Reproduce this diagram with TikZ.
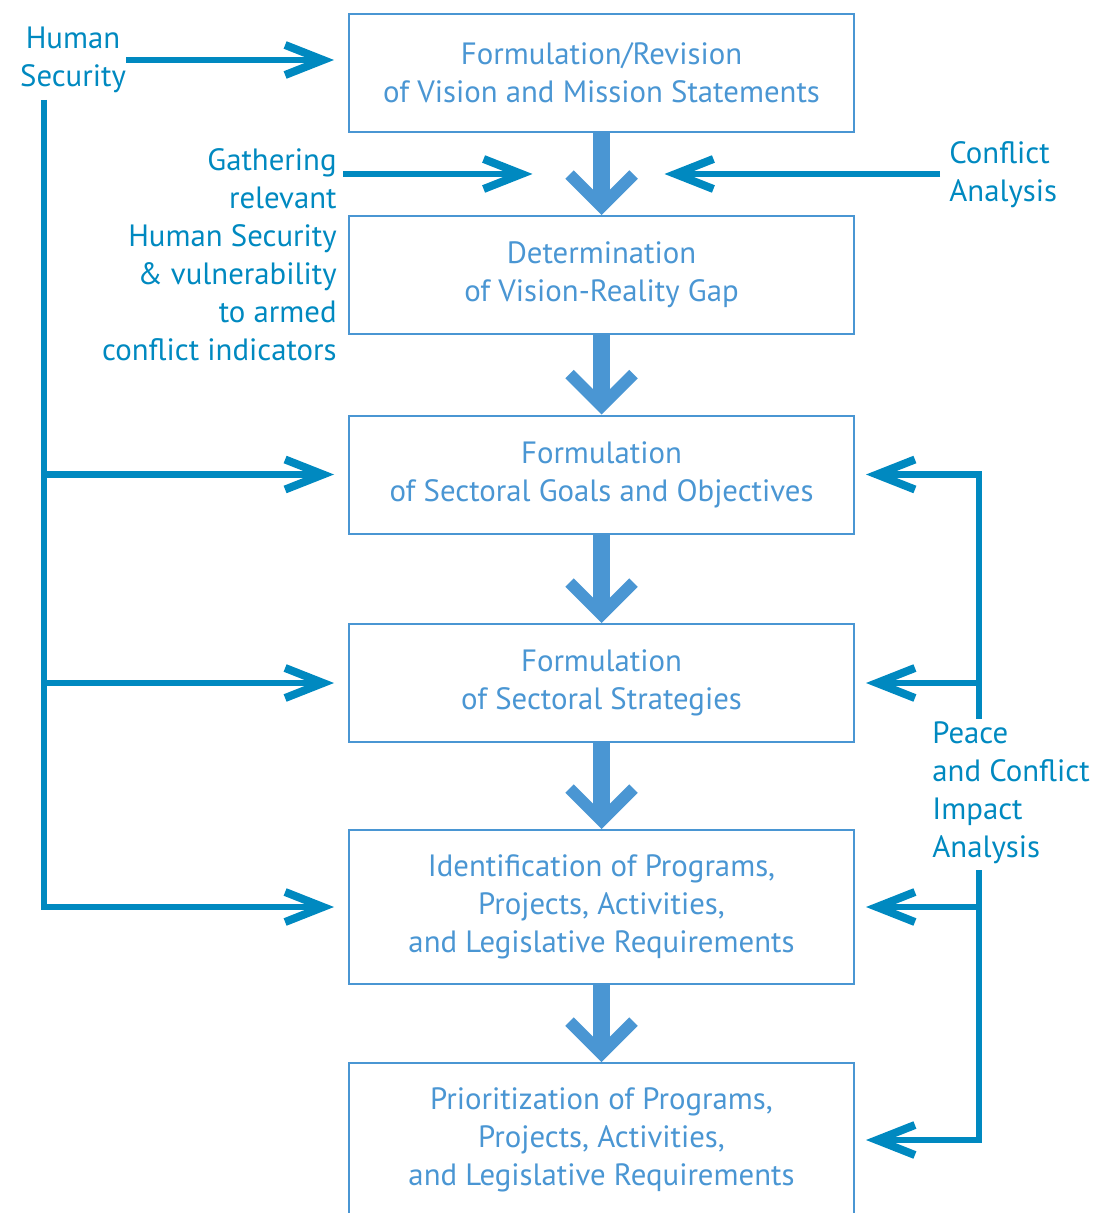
\documentclass[tikz,border=0pt]{standalone}
\usepackage{fontspec}
\setmainfont{PT Sans}
\usetikzlibrary{arrows.meta,positioning,calc}
\definecolor{BoxBlue}{RGB}{74,150,211}
\definecolor{LinkBlue}{RGB}{0,137,192}

\begin{document}
\begin{tikzpicture}[x=0.5pt,y=-0.5pt,
    stagebox/.style={draw=BoxBlue,line width=1pt,text=BoxBlue,minimum width=252.5pt,minimum height=59pt,align=center,font=\fontsize{15.4}{19}\selectfont},
    sidetext/.style={text=LinkBlue,inner sep=0pt,font=\fontsize{15.4}{19}\selectfont},
    flow/.style={draw=BoxBlue,line width=8.5pt,-{Straight Barb[length=16pt,width=32pt,line width=6pt]}},
    feed/.style={draw=LinkBlue,line width=3.3pt,-{Straight Barb[length=19pt,width=15pt,line width=4pt]}}]
    \useasboundingbox (0,0) rectangle (1098,1213);
    % main stages
    \node[stagebox] (b1) at (601.5,73) {Formulation/Revision\\of Vision and Mission Statements};
    \node[stagebox] (b2) at (601.5,275) {Determination\\of Vision-Reality Gap};
    \node[stagebox] (b3) at (601.5,474.5) {Formulation\\of Sectoral Goals and Objectives};
    \node[stagebox] (b4) at (601.5,683) {Formulation\\of Sectoral Strategies};
    \node[stagebox,minimum height=77pt] (b5) at (601.5,907) {Identification of Programs,\\Projects, Activities,\\and Legislative Requirements};
    \node[stagebox,minimum height=77pt] (b6) at (601.5,1140) {Prioritization of Programs,\\Projects, Activities,\\and Legislative Requirements};
    % inputs
    \node[sidetext,align=center] (hs) at (73,60) {Human\\Security};
    \node[sidetext,align=right,anchor=east] (gather) at (337,255) {Gathering\\relevant\\Human Security\\\& vulnerability\\to armed\\conflict indicators};
    \node[sidetext,align=left,anchor=west] (ca) at (949,175) {Conflict\\Analysis};
    \node[sidetext,align=left,anchor=west] (pcia) at (932,793) {Peace\\and Conflict\\Impact\\Analysis};
    \coordinate (lrail) at (44,100);
    \coordinate (rrail) at (979,0);
    \coordinate (gap1) at ($(b1.south)!0.5!(b2.north)$);
    % stage to stage
    \draw[flow] (b1) -- (b2);
    \draw[flow] (b2) -- (b3);
    \draw[flow] (b3) -- (b4);
    \draw[flow] (b4) -- (b5);
    \draw[flow] (b5) -- (b6);
    % human security rail
    \draw[feed,shorten >=7pt] (hs.east) -- (hs.east -| b1.west);
    \draw[feed,shorten >=7pt] (lrail) |- (b5.west);
    \draw[feed,shorten >=7pt] (lrail |- b3.west) -- (b3.west);
    \draw[feed,shorten >=7pt] (lrail |- b4.west) -- (b4.west);
    % analyses
    \draw[feed,shorten <=3pt,shorten >=34.5pt] (gather.east |- gap1) -- (gap1);
    \draw[feed,shorten <=4.5pt,shorten >=31.5pt] (ca.west |- gap1) -- (gap1);
    \draw[feed,shorten >=5.5pt] ([yshift=1.5pt]pcia.north -| rrail) |- (b3.east);
    \draw[feed,shorten >=5.5pt] (b4.east -| rrail) -- (b4.east);
    \draw[feed,shorten >=5.5pt] ([yshift=-3pt]pcia.south -| rrail) |- (b6.east);
    \draw[feed,shorten >=5.5pt] (b5.east -| rrail) -- (b5.east);
\end{tikzpicture}
\end{document}
